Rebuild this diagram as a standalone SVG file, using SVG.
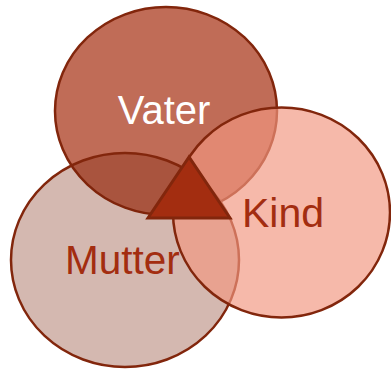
<svg xmlns="http://www.w3.org/2000/svg" width="391" height="369" viewBox="0 0 391 369">
  <style>
    .ring { stroke: #82260c; stroke-width: 2.5; }
    .label { font-family: "Liberation Sans", Arial, sans-serif; font-size: 40px; }
  </style>
  <rect width="391" height="369" fill="#ffffff"/>
  <g id="vater">
    <ellipse class="ring" cx="166" cy="111" rx="111" ry="104" fill="#c06c57"/>
  </g>
  <g id="mutter">
    <ellipse class="ring" cx="125" cy="260" rx="114" ry="107" fill="#78210a" fill-opacity="0.32"/>
  </g>
  <g id="kind">
    <ellipse cx="281.5" cy="212.5" rx="108.5" ry="105" fill="#f29780" fill-opacity="0.67"/>
    <ellipse class="ring" cx="281.5" cy="212.5" rx="108.5" ry="105" fill="none"/>
  </g>
  <g id="zentrum">
    <polygon points="189,157 148,218 230,218" fill="#a32d10" stroke="#82260c" stroke-width="3" stroke-linejoin="miter"/>
  </g>
  <g id="labels">
    <text class="label" x="164" y="124" text-anchor="middle" fill="#ffffff">Vater</text>
    <text class="label" x="65" y="274" fill="#a32d10" style="font-size:40.5px">Mutter</text>
    <text class="label" x="242" y="227" fill="#a32d10" style="font-size:41px">Kind</text>
  </g>
</svg>
